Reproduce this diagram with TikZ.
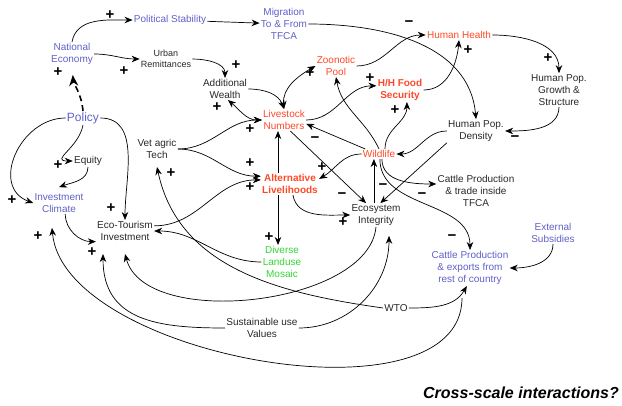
\documentclass[tikz,border=0pt]{standalone}
\usepackage{fontspec}
\setmainfont{Liberation Sans}
\usepackage{tikz}
\usetikzlibrary{arrows.meta}

\definecolor{varblue}{RGB}{96,96,200}
\definecolor{varred}{RGB}{255,72,40}
\definecolor{vargreen}{RGB}{50,215,50}
\definecolor{vargray}{RGB}{40,40,40}

\begin{document}
\begin{tikzpicture}[x=1pt, y=1pt, line width=0.7pt,
			>={Stealth[length=8pt,width=6.5pt]},
			varnode/.style={align=center, inner sep=1pt, text=vargray, font=\fontsize{10}{12}\selectfont},
			bluenode/.style={varnode, text=varblue},
			rednode/.style={varnode, text=varred},
			boldred/.style={rednode, font=\fontsize{10}{12}\selectfont\bfseries},
			greennode/.style={varnode, text=vargreen},
			signnode/.style={inner sep=0pt, text=black, font=\fontsize{15}{15}\selectfont\bfseries},
		]
		\useasboundingbox (0,0) rectangle (622,405);

			%Nodes
			\node[bluenode]	(polstab)	at (170,385)	{Political Stability};
			\node[bluenode]	(migr)		at (284,381)	{Migration\\To \& From\\TFCA};
			\node[bluenode]	(natecon)	at (72,351)		{National\\Economy};
			\node[varnode, font=\fontsize{9}{11}\selectfont]	(urbrem)	at (166,346)	{Urban\\Remittances};
			\node[varnode]	(addwealth)	at (225,316)	{Additional\\Wealth};
			\node[rednode]	(zoonotic)	at (336,339)	{Zoonotic\\Pool};
			\node[rednode]	(humhealth)	at (459,370)	{Human Health};
			\node[boldred]	(hhfood)	at (400,315)	{H/H Food\\Security};
			\node[varnode]	(hpgrowth)	at (559,315)	{Human Pop.\\Growth \&\\Structure};
			\node[varnode]	(hpd)		at (476,274)	{Human Pop.\\Density};
			\node[rednode]	(livestock)	at (284,285)	{Livestock\\Numbers};
			\node[bluenode, font=\fontsize{12}{14}\selectfont]	(policy)	at (83,287)	{Policy};
			\node[varnode]	(equity)	at (88,244)		{Equity};
			\node[varnode]	(vettech)	at (157,256)	{Vet agric\\Tech};
			\node[rednode]	(wildlife)	at (379,251)	{Wildlife};
			\node[boldred]	(altliv)	at (290,221)	{Alternative\\Livelihoods};
			\node[bluenode]	(invclim)	at (59,202)		{Investment\\Climate};
			\node[varnode]	(cattletfca)	at (476,214)	{Cattle Production\\\& trade inside\\TFCA};
			\node[varnode]	(ecotour)	at (125,174)	{Eco-Tourism\\Investment};
			\node[varnode]	(ecosys)	at (376,190)	{Ecosystem\\Integrity};
			\node[greennode]	(diverse)	at (282,143)	{Diverse\\Landuse\\Mosaic};
			\node[bluenode]	(extsub)	at (553,172)	{External\\Subsidies};
			\node[bluenode]	(cattleexp)	at (470,137)	{Cattle Production\\\& exports from\\rest of country};
			\node[varnode]	(sustuse)	at (262,77)		{Sustainable use\\Values};
			\node[varnode]	(wto)		at (396,97)		{WTO};
			\node[varnode, text=black, font=\fontsize{16}{18}\selectfont\bfseries\itshape]	(crossq)	at (521,12)	{Cross-scale interactions?};

			%Lines
			\draw[->]	(natecon.north) to[out=80,in=180] (polstab.west);
			\draw[->]	(natecon.east) to[out=0,in=180] (urbrem.west);
			\draw[->, dash pattern=on 6pt off 4pt, line width=1.6pt, >={Stealth[length=11pt,width=9pt]}, shorten >=9pt]
				(policy.north) to[out=95,in=-85] (natecon.south);
			\draw[->]	(polstab) -- (migr);
			\draw[->]	(migr.east) to[out=0,in=95] (hpd.north);
			\draw[->]	(urbrem.east) to[out=0,in=90] (addwealth.north);
			\draw[->]	(addwealth.east) to[out=0,in=110] (livestock.north);
			\draw[<->]	(livestock.north) to[out=95,in=210] (zoonotic.west);
			\draw[<->]	(addwealth.-75) to[out=-40,in=180] (livestock.west);
			\draw[->]	(vettech.east) to[out=0,in=180] (livestock.west);
			\draw[->]	(vettech.east) to[out=0,in=180] (altliv.165);
			\draw[->]	(ecotour.10) to[out=0,in=180] (altliv.172);
			\draw[->]	(livestock.east) to[out=0,in=180] (hhfood.170);
			\draw[->]	(zoonotic.east) to[out=0,in=180] (humhealth.west);
			\draw[->]	(hhfood.east) to[out=0,in=-95] (humhealth.south);
			\draw[->]	(humhealth.east) to[out=0,in=90] (hpgrowth.north);
			\draw[->]	(hpgrowth.south) to[out=-90,in=0] (hpd.east);
			\draw[->]	(hpd.west) to[out=180,in=0] (wildlife.east);
			\draw[->]	(hpd.south west) -- (ecosys.70);
			\draw[->]	(wildlife.160) -- (livestock.-10);
			\draw[->]	(wildlife.north) to[out=115,in=-80] (zoonotic.south);
			\draw[->]	(wildlife.40) to[out=90,in=-90] (hhfood.-60);
			\draw[->]	(wildlife.west) to[out=180,in=30] (altliv.10);
			\draw[->]	(ecosys.100) -- (wildlife.south -| ecosys.100);
			\draw[->]	(wildlife.-60) to[out=-90,in=180] (cattletfca.170);
			\draw[->]	(wildlife.-80) to[out=-90,in=90] (cattleexp.north);
			\draw[->]	(livestock.-60) -- (ecosys.130);
			\draw[->]	([xshift=-12pt]altliv.north) -- ([xshift=-6pt]livestock.south);
			\draw[->]	(altliv.-75) to[out=-80,in=180] (ecosys.west);
			\draw[->]	([xshift=-12pt]altliv.south) -- ([xshift=-4pt]diverse.north);
			\draw[->]	(diverse.west) to[out=180,in=0] (ecotour.east);
			\draw[->]	(policy.south) to[out=-100,in=180,looseness=1.6] (equity.west);
			\draw[->]	(equity.south) to[out=-90,in=20] ([yshift=5pt]invclim.north);
			\draw[->]	(policy.west) to[out=180,in=160,looseness=1.3] (invclim.west);
			\draw[->]	(policy.east) to[out=0,in=90] (ecotour.north);
			\draw[->]	(invclim.-60) to[out=-90,in=180] (ecotour.200);
			\draw[->]	(ecosys.south) to[out=-95,in=-75,looseness=0.8] ([yshift=-12pt]ecotour.south);
			\draw[->]	(sustuse.west) to[out=180,in=-90,looseness=1.2] ([shift={(-22pt,-12pt)}]ecotour.south);
			\draw[->]	(sustuse.east) to[out=0,in=-90] ([shift={(13pt,-9pt)}]ecosys.south);
			\draw[->]	(wto.west) to[out=172,in=-78] ([yshift=-7pt]vettech.south);
			\draw[->]	(wto.east) to[out=0,in=-120] (cattleexp.-100);
			\draw[->]	([shift={(-8pt,-12pt)}]cattleexp.south) to[out=-90,in=-85,looseness=0.8] ([shift={(-7pt,-14pt)}]invclim.south);
			\draw[->]	(extsub.south) to[out=-90,in=0] (cattleexp.east);

			%Signs
			\node[signnode] (s1)  at (110,390) {+};
			\node[signnode] (s2)  at (124,334) {+};
			\node[signnode] (s3)  at (58,333)  {+};
			\node[signnode] (s4)  at (236,340) {+};
			\node[signnode] (s5)  at (310,332) {+};
			\node[signnode] (s6)  at (217,298) {+};
			\node[signnode] (s7)  at (250,276) {+};
			\node[signnode] (s8)  at (250,242) {+};
			\node[signnode] (s9)  at (250,218) {+};
			\node[signnode] (s10) at (370,327) {+};
			\node[signnode] (s11) at (468,355) {+};
			\node[signnode] (s12) at (548,347) {+};
			\node[signnode] (s13) at (395,295) {+};
			\node[signnode] (s14) at (322,238) {+};
			\node[signnode] (s15) at (343,183) {+};
			\node[signnode] (s16) at (269,168) {+};
			\node[signnode] (s17) at (58,240)  {+};
			\node[signnode] (s18) at (12,205)  {+};
			\node[signnode] (s19) at (111,197) {+};
			\node[signnode] (s20) at (92,153)  {+};
			\node[signnode] (s21) at (171,232) {+};
			\node[signnode] (s22) at (38,169)  {+};
			\node[signnode] (m1)  at (409,381) {−};
			\node[signnode] (m2)  at (515,266) {−};
			\node[signnode] (m3)  at (315,265) {−};
			\node[signnode] (m4)  at (342,209) {−};
			\node[signnode] (m5)  at (383,218) {−};
			\node[signnode] (m6)  at (422,209) {−};
			\node[signnode] (m7)  at (452,167) {−};

		\end{tikzpicture}
\end{document}
